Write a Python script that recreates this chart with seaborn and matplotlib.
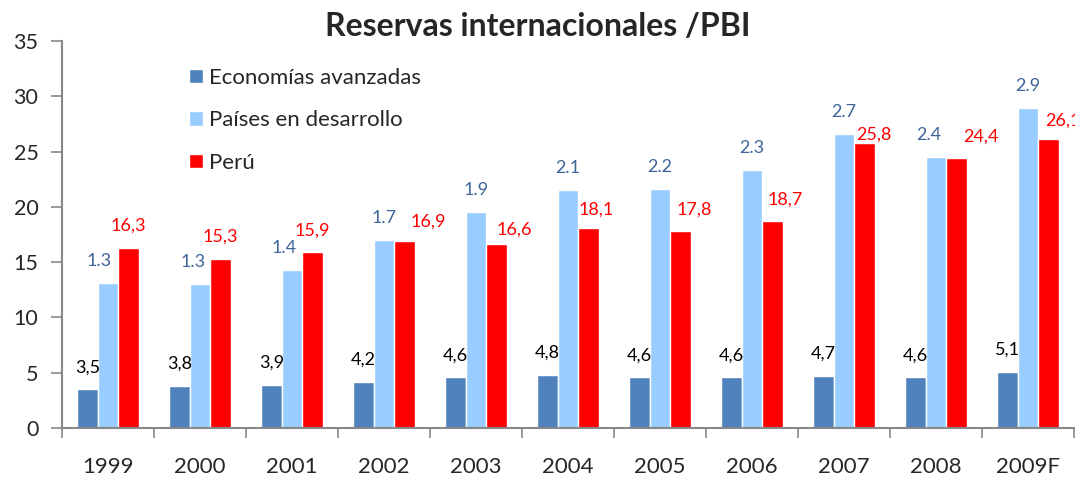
import matplotlib
matplotlib.use("Agg")
import matplotlib.pyplot as plt
import seaborn as sns
import pandas as pd
import numpy as np

years = ["1999", "2000", "2001", "2002", "2003", "2004", "2005", "2006", "2007", "2008", "2009F"]
series = ["Economías avanzadas", "Países en desarrollo", "Perú"]
avanzadas = [3.5, 3.8, 3.9, 4.2, 4.6, 4.8, 4.6, 4.6, 4.7, 4.6, 5.1]
desarrollo = [13.1, 13.0, 14.3, 17.0, 19.5, 21.5, 21.6, 23.3, 26.6, 24.5, 28.9]
peru = [16.3, 15.3, 15.9, 16.9, 16.6, 18.1, 17.8, 18.7, 25.8, 24.4, 26.1]
# data labels as printed on the original chart
labels_avanzadas = ["3,5", "3,8", "3,9", "4,2", "4,6", "4,8", "4,6", "4,6", "4,7", "4,6", "5,1"]
labels_desarrollo = ["1.3", "1.3", "1.4", "1.7", "1.9", "2.1", "2.2", "2.3", "2.7", "2.4", "2.9"]
labels_peru = ["16,3", "15,3", "15,9", "16,9", "16,6", "18,1", "17,8", "18,7", "25,8", "24,4", "26,1"]

colors = ["#4F81BD", "#99CCFF", "#FF0000"]
label_colors = ["#000000", "#3E6599", "#FF0000"]

# manual nudges (pixels) for labels that were moved by hand in the source chart
nudge_x = {1: {0: -9, 1: -7, 2: -8, 9: -7},
           2: {3: 24, 4: 18, 5: 8, 6: 14, 7: 13, 8: 9, 9: 24, 10: 14}}
nudge_y = {2: {3: -2, 4: -7, 5: -4, 8: -14, 10: -3}}

df = pd.DataFrame({
    "year": years * 3,
    "serie": np.repeat(series, len(years)),
    "valor": avanzadas + desarrollo + peru,
})

sns.set_style("white")
plt.rcParams["font.family"] = ["Lato", "DejaVu Sans"]

fig = plt.figure(figsize=(10.75, 4.79), dpi=100)
ax = fig.add_axes([62 / 1075, 1 - 428 / 479, 1012 / 1075, 387 / 479])

sns.barplot(data=df, x="year", y="valor", hue="serie", palette=colors,
            width=0.67, ax=ax, saturation=1, legend=True)

all_labels = [labels_avanzadas, labels_desarrollo, labels_peru]
for k, cont in enumerate(ax.containers):
    for i, bar in enumerate(cont):
        dx = nudge_x.get(k, {}).get(i, 0)
        dy = 22 + nudge_y.get(k, {}).get(i, 0)
        ax.annotate(all_labels[k][i],
                    (bar.get_x() + bar.get_width() / 2, bar.get_height()),
                    xytext=(dx, dy), textcoords="offset pixels",
                    ha="center", va="center", fontsize=13,
                    color=label_colors[k], annotation_clip=False)

ax.set_ylim(0, 35)
ax.set_xlim(-0.5, 10.5)
ax.set_yticks(range(0, 36, 5))
ax.set_xlabel("")
ax.set_ylabel("")
ax.tick_params(axis="y", labelsize=15.5, length=8, width=1.2, color="#888888",
               direction="out", pad=9, left=True)
ax.tick_params(axis="x", which="major", labelsize=16, length=0, pad=21)
ax.set_xticks(np.arange(-0.5, 11, 1), minor=True)
ax.tick_params(axis="x", which="minor", length=7, width=1.2, color="#888888",
               direction="out", bottom=True)

for side in ["top", "right"]:
    ax.spines[side].set_visible(False)
for side in ["left", "bottom"]:
    ax.spines[side].set_color("#888888")
    ax.spines[side].set_linewidth(1.5)

ax.legend(loc="upper left", bbox_to_anchor=(0.117, 0.953), frameon=False,
          fontsize=16, handlelength=0.6, handleheight=0.6,
          labelspacing=1.0, handletextpad=0.3, borderaxespad=0)

fig.text(0.5, 0.945, "Reservas internacionales /PBI", ha="center", va="center",
         fontsize=23, fontweight="bold")

fig.savefig("out.png", dpi=100)
